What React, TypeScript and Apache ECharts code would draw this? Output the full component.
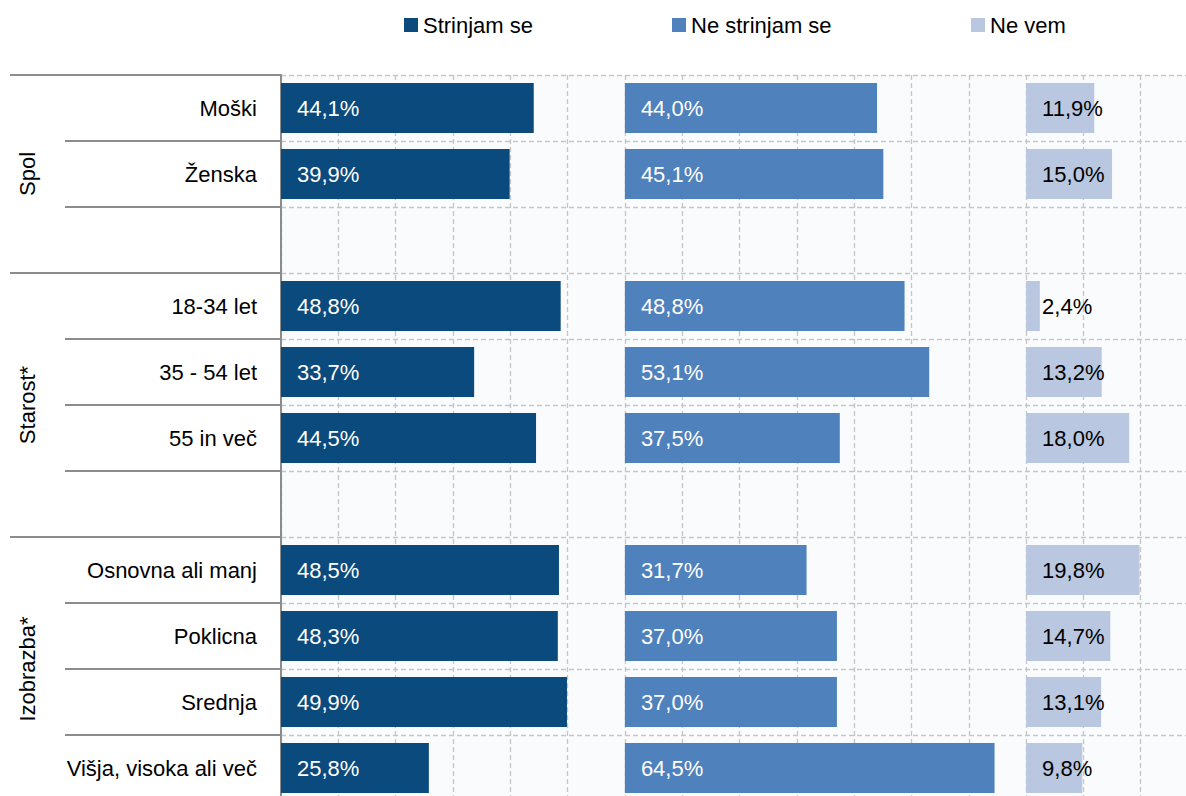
import React, { useEffect, useRef } from 'react';
import * as echarts from 'echarts';

const categories = ['Moški', 'Ženska', ' ', '18-34 let', '35 - 54 let', '55 in več', '  ', 'Osnovna ali manj', 'Poklicna', 'Srednja', 'Višja, visoka ali več'];
const strinjam: (number | null)[] = [44.1, 39.9, null, 48.8, 33.7, 44.5, null, 48.5, 48.3, 49.9, 25.8];
const neStrinjam: (number | null)[] = [44.0, 45.1, null, 48.8, 53.1, 37.5, null, 31.7, 37.0, 37.0, 64.5];
const neVem: (number | null)[] = [11.9, 15.0, null, 2.4, 13.2, 18.0, null, 19.8, 14.7, 13.1, 9.8];
const seriesNames = ['Strinjam se', 'Ne strinjam se', 'Ne vem'];
const panelStarts = [0, 60, 130];
const groupNames = ['Spol', 'Starost*', 'Izobrazba*'];
const groupFirstRow = [0, 3, 7];
const xMax = 160;
const xInterval = 10;

const COLORS = ['#0B4A7C', '#4F81BD', '#B9C7E1'];
const LABEL_COLORS = ['#FFFFFF', '#FFFFFF', '#000000'];
const FONT = '"Liberation Sans Narrow", "Arial Narrow", "Liberation Sans", Arial, sans-serif';
const FS = 22;
const LEGEND_LEFT = [404, 672, 971];
const AXIS_GRAY = '#8C8C8C';
const GRID_GRAY = '#C6C6C6';

const fmt = (v: number) => v.toFixed(1).replace('.', ',') + '%';

export default function App() {
  const ref = useRef<HTMLDivElement>(null);

  useEffect(() => {
    document.body.style.margin = '0';
    if (!ref.current) return;
    const chart = echarts.init(ref.current, undefined, { renderer: 'svg' });

    const spacer1 = strinjam.map((v) => (v == null ? null : panelStarts[1] - panelStarts[0] - v));
    const spacer2 = neStrinjam.map((v) => (v == null ? null : panelStarts[2] - panelStarts[1] - v));

    const groupBoundaries = groupFirstRow.map((r) => r - 0.5).concat([categories.length - 0.5]);
    const groupCenters = groupFirstRow.map((first, g) => {
      const last = (g + 1 < groupFirstRow.length ? groupFirstRow[g + 1] : categories.length) - 1;
      return (first + last) / 2;
    });

    const mkBar = (i: number, data: (number | null)[]) => ({
      name: seriesNames[i],
      type: 'bar',
      stack: 'all',
      barWidth: 50,
      data,
      itemStyle: { color: COLORS[i] },
      label: {
        show: true,
        position: 'insideLeft',
        distance: 16,
        color: LABEL_COLORS[i],
        fontSize: FS,
        fontFamily: FONT,
        formatter: (p: any) => fmt(p.value),
      },
    });
    const mkSpacer = (name: string, data: (number | null)[]) => ({
      name,
      type: 'bar',
      stack: 'all',
      barWidth: 50,
      data,
      silent: true,
      itemStyle: { color: 'rgba(0,0,0,0)' },
      label: { show: false },
    });

    chart.setOption({
      animation: false,
      textStyle: { fontFamily: FONT },
      legend: seriesNames.map((n, i) => ({
        data: [n],
        left: LEGEND_LEFT[i],
        top: 14,
        padding: 0,
        icon: 'rect',
        itemWidth: 14,
        itemHeight: 14,
        selectedMode: false,
        textStyle: { fontSize: FS, fontFamily: FONT, color: '#000' },
      })),
      grid: {
        left: 281,
        top: 75,
        width: 917,
        height: 726,
        show: true,
        backgroundColor: '#FAFBFD',
        borderWidth: 0,
        outerBoundsMode: 'none',
        containLabel: false,
      },
      xAxis: {
        type: 'value',
        min: 0,
        max: xMax,
        interval: xInterval,
        axisLabel: { show: false },
        axisLine: { show: false },
        axisTick: { show: false },
        splitLine: { show: true, lineStyle: { color: GRID_GRAY, type: [5, 3], width: 1.3 } },
      },
      yAxis: [
        {
          type: 'category',
          data: categories,
          inverse: true,
          axisLine: { show: true, lineStyle: { color: AXIS_GRAY, width: 2 } },
          axisTick: { show: true, interval: 0, length: 216, lineStyle: { color: AXIS_GRAY, width: 2 } },
          axisLabel: { interval: 0, margin: 24, fontSize: FS, color: '#000', fontFamily: FONT },
          splitLine: { show: true, interval: 0, lineStyle: { color: GRID_GRAY, type: [5, 3], width: 1.3 } },
        },
        {
          type: 'value',
          min: -0.5,
          max: categories.length - 0.5,
          inverse: true,
          position: 'left',
          offset: 0,
          axisLine: { show: false },
          splitLine: { show: false },
          axisTick: { show: true, customValues: groupBoundaries, length: 271, lineStyle: { color: AXIS_GRAY, width: 2 } },
          axisLabel: {
            show: true,
            customValues: groupCenters,
            rotate: 90,
            margin: 243,
            fontSize: FS,
            color: '#000',
            fontFamily: FONT,
            formatter: (v: number) => {
              const idx = groupCenters.findIndex((c) => Math.abs(c - v) < 1e-6);
              return idx >= 0 ? groupNames[idx] : '';
            },
          },
        },
      ],
      series: [
        mkBar(0, strinjam),
        mkSpacer('_gap1', spacer1),
        mkBar(1, neStrinjam),
        mkSpacer('_gap2', spacer2),
        mkBar(2, neVem),
      ],
    });

    return () => chart.dispose();
  }, []);

  return <div ref={ref} style={{ position: 'absolute', left: 0, top: 0, width: 1186, height: 796 }} />;
}
